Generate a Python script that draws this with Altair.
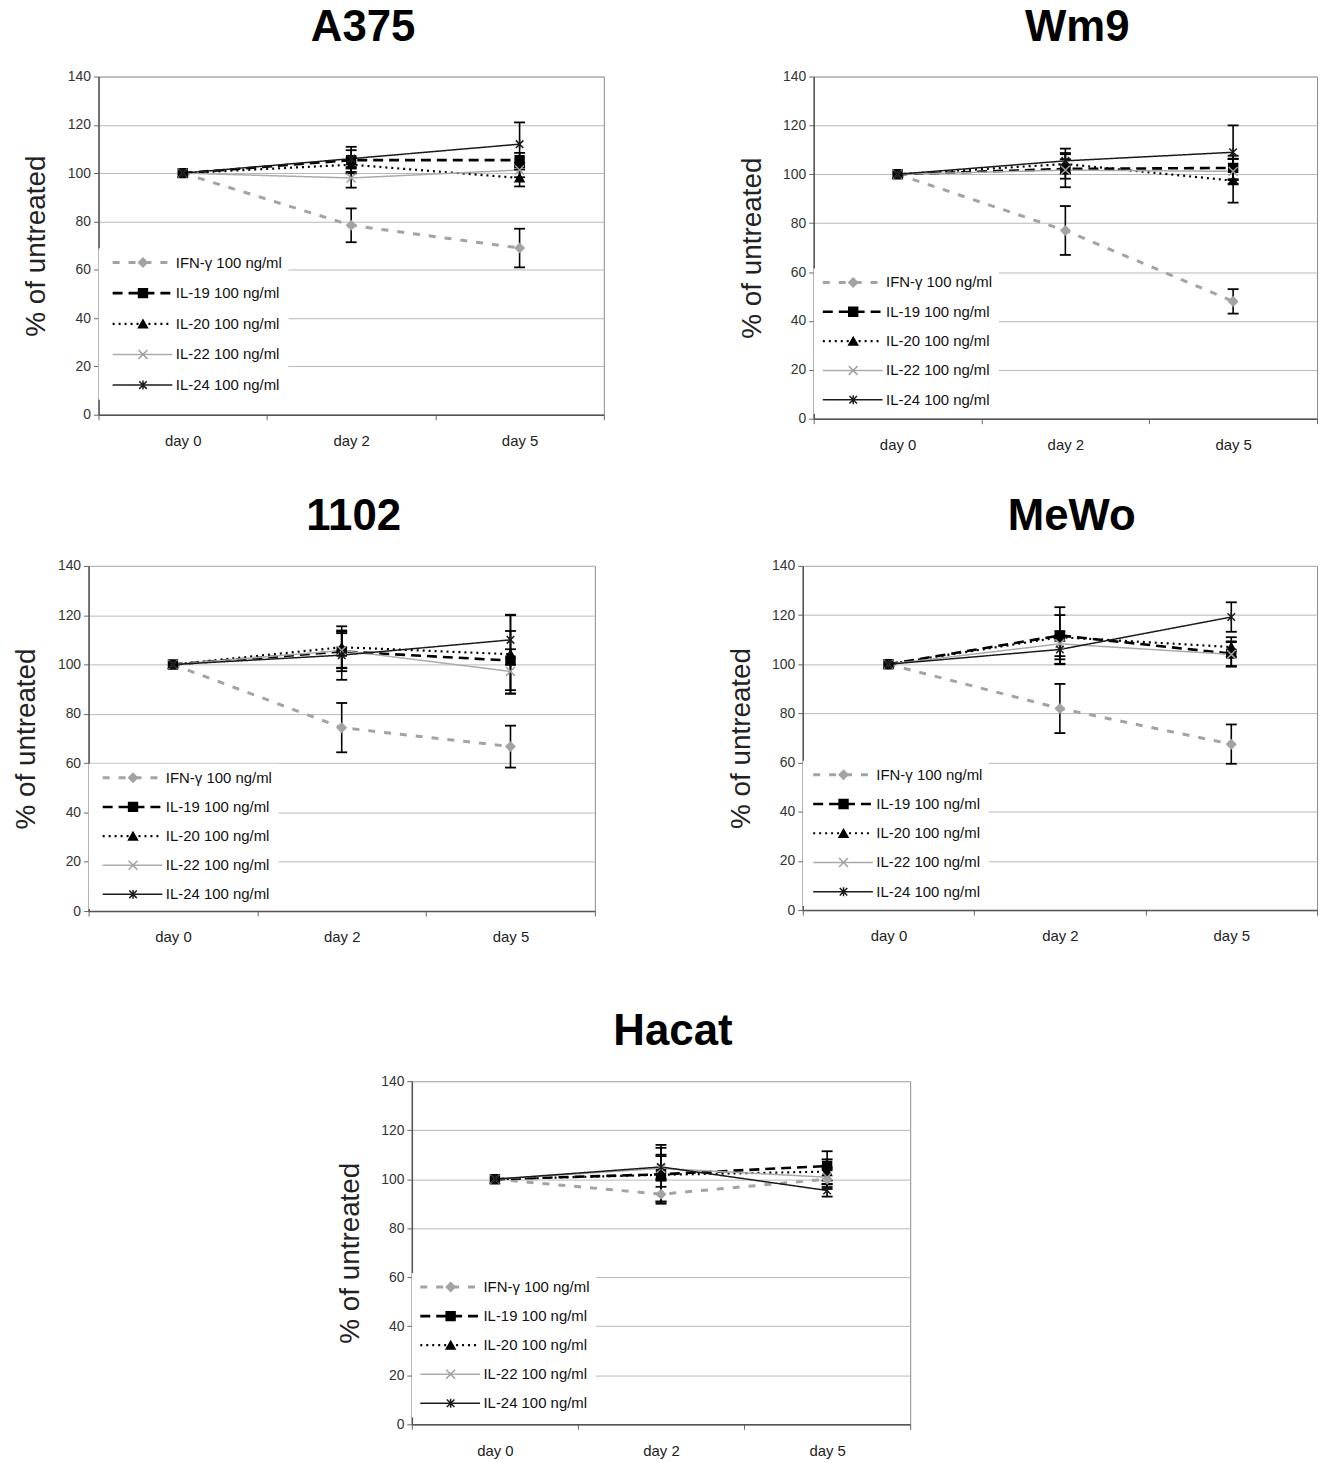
import altair as alt
import pandas as pd

FONT = "Liberation Sans"

days = ["day 0", "day 2", "day 5"]
series = ["IFN-γ 100 ng/ml", "IL-19 100 ng/ml", "IL-20 100 ng/ml",
          "IL-22 100 ng/ml", "IL-24 100 ng/ml"]

# mean values (rows: series in the order above, columns: days)
A375_mean = [[100, 78.4, 69.0], [100, 105.4, 105.4], [100, 103.5, 98.0],
             [100, 98.0, 101.3], [100, 106.0, 112.0]]
A375_err = [[0, 7, 8], [0, 5.5, 3], [0, 3, 3.5], [0, 4, 3], [0, 3.5, 9]]

Wm9_mean = [[100, 77.0, 48.0], [100, 102.2, 102.6], [100, 104.2, 97.4],
            [100, 101.7, 101.2], [100, 105.5, 109.0]]
Wm9_err = [[0, 10, 5], [0, 4, 5], [0, 4, 9], [0, 7, 5], [0, 5, 11]]

C1102_mean = [[100, 74.4, 66.7], [100, 105.3, 101.6], [100, 107.0, 104.2],
              [100, 105.7, 97.2], [100, 103.8, 110.0]]
C1102_err = [[0, 10, 8.5], [0, 8, 12], [0, 8.5, 16], [0, 7, 9], [0, 10, 10]]

MeWo_mean = [[100, 82.0, 67.5], [100, 111.7, 104.3], [100, 111.0, 107.0],
             [100, 108.3, 104.0], [100, 106.0, 119.2]]
MeWo_err = [[0, 10, 8], [0, 11.5, 5], [0, 9, 4], [0, 5, 5], [0, 6, 6]]

Hacat_mean = [[100, 93.9, 100.0], [100, 102.0, 105.4], [100, 101.8, 103.1],
              [100, 104.4, 100.8], [100, 105.0, 95.4]]
Hacat_err = [[0, 3, 4], [0, 12, 6], [0, 11, 5], [0, 5, 4], [0, 5, 2.5]]

y_ticks = [0, 20, 40, 60, 80, 100, 120, 140]

# styles
line_colors = ["#a3a3a3", "#000000", "#000000", "#ababab", "#1a1a1a"]
line_dashes = [[7, 9], [10, 6], [2, 4], [1, 0], [1, 0]]
line_widths = [3, 2.6, 2.2, 1.5, 1.5]
marker_shapes = ["diamond", "square", "triangle-up",
                 "M-1,-1L1,1M-1,1L1,-1",
                 "M-0.85,-0.85L0.85,0.85M-0.85,0.85L0.85,-0.85M0,-1L0,1"]
marker_fill = ["#a3a3a3", "#000000", "#000000", "#ababab", "#1a1a1a"]
marker_stroke = ["#a3a3a3", "#000000", "#000000", "#a0a0a0", "#1a1a1a"]

L = 77  # plot-left offset inside each panel group (estimated)


def build(mean, err):
    rows = []
    for si, s in enumerate(series):
        for di, d in enumerate(days):
            m = mean[si][di]
            e = err[si][di]
            rows.append(dict(day=d, series=s, series2=s, value=m, err=e,
                             lo=m - e, hi=m + e))
    return pd.DataFrame(rows)


def panel(name, mean, err, w, h, sym_start, first_row, pitch):
    df = build(mean, err)
    dfe = df[df["err"] > 0]
    so = max(sym_start - 8, 0)
    x = alt.X("day:N", sort=days,
              scale=alt.Scale(type="band", domain=days, paddingInner=0,
                              paddingOuter=0),
              axis=alt.Axis(title=None, tickBand="extent", labelAngle=0,
                            labelFontSize=15, labelPadding=14, tickSize=5,
                            tickColor="#666", domainColor="#555",
                            domainWidth=1.5, labelColor="#222", grid=False,
                            labelFont=FONT))
    yscale = alt.Scale(domain=[0, 140], nice=False, zero=True)
    yaxis = alt.Axis(values=y_ticks, title="% of untreated", titleFontSize=28,
                     titleFontWeight="normal", titleColor="#222",
                     titlePadding=16.5, titleFont=FONT, labelFont=FONT,
                     labelFontSize=14, labelColor="#333", labelPadding=3,
                     tickSize=5, tickColor="#666", domainColor="#555",
                     domainWidth=1.5, grid=True, gridColor="#b8b8b8",
                     gridWidth=1)
    leg1 = alt.Legend(title=None, orient="none", legendX=0,
                      legendY=first_row - 12, padding=6, fillColor="white",
                      symbolType="stroke", symbolSize=3600, clipHeight=16,
                      rowPadding=pitch - 16, symbolOffset=so,
                      labelOffset=2, labelFontSize=15, labelFont=FONT,
                      labelColor="#111", labelLimit=300, symbolOpacity=1)
    leg2 = alt.Legend(title=None, orient="none", legendX=0,
                      legendY=first_row - 12, padding=6, symbolSize=80,
                      symbolStrokeWidth=1.5, clipHeight=16,
                      rowPadding=pitch - 16, symbolOffset=so + 24.5,
                      labelOffset=2, labelFontSize=15, labelFont=FONT,
                      labelOpacity=0, labelLimit=300, symbolOpacity=1)

    lines = alt.Chart(df).mark_line(strokeCap="butt").encode(
        x=x,
        y=alt.Y("value:Q", scale=yscale, axis=yaxis),
        stroke=alt.Stroke("series:N", scale=alt.Scale(domain=series, range=line_colors), legend=leg1),
        strokeDash=alt.StrokeDash("series:N", scale=alt.Scale(domain=series, range=line_dashes), legend=leg1),
        strokeWidth=alt.StrokeWidth("series:N", scale=alt.Scale(type="ordinal", domain=series, range=line_widths), legend=leg1),
    )
    bars = alt.Chart(dfe).mark_rule(color="#000", strokeWidth=1.6).encode(
        x=x, y=alt.Y("lo:Q", scale=yscale, title="% of untreated"), y2="hi:Q")
    cap_lo = alt.Chart(dfe).mark_tick(color="#000", thickness=1.8, size=11,
                                      orient="horizontal", opacity=1).encode(
        x=x, y=alt.Y("lo:Q", scale=yscale, title="% of untreated"))
    cap_hi = alt.Chart(dfe).mark_tick(color="#000", thickness=1.8, size=11,
                                      orient="horizontal", opacity=1).encode(
        x=x, y=alt.Y("hi:Q", scale=yscale, title="% of untreated"))
    pts = alt.Chart(df).mark_point(filled=True, opacity=1, strokeWidth=1.5,
                                   size=80).encode(
        x=x,
        y=alt.Y("value:Q", scale=yscale, title="% of untreated"),
        shape=alt.Shape("series2:N", scale=alt.Scale(domain=series, range=marker_shapes), legend=leg2),
        fill=alt.Fill("series2:N", scale=alt.Scale(domain=series, range=marker_fill), legend=leg2),
        stroke=alt.Stroke("series2:N", scale=alt.Scale(domain=series, range=marker_stroke), legend=leg2),
    )
    return alt.layer(lines, bars, cap_lo, cap_hi, pts).resolve_scale(
        stroke="independent", strokeDash="independent",
        strokeWidth="independent", shape="independent", fill="independent"
    ).properties(
        width=w, height=h,
        title=alt.TitleParams(text=name, fontSize=44, fontWeight="bold",
                              font=FONT, color="#000", offset=20, dx=12,
                              anchor="middle"),
        view=alt.ViewBackground(stroke="#8a8a8a", strokeWidth=1),
    )


def spacer(w):
    return alt.Chart(pd.DataFrame({"v": [0]})).mark_point(opacity=0, size=4).properties(
        width=w, height=10, view=alt.ViewBackground(stroke="transparent"))


RES = dict(stroke="independent", strokeDash="independent",
           strokeWidth="independent", shape="independent", fill="independent")

pA = panel("A375", A375_mean, A375_err, 508, 340, 14.7, 185, 30.8)
pW = panel("Wm9", Wm9_mean, Wm9_err, 506, 344, 9.7, 205, 29.5)
p1 = panel("1102", C1102_mean, C1102_err, 509, 347, 14.7, 211, 29.3)
pM = panel("MeWo", MeWo_mean, MeWo_err, 517, 346, 11, 208, 29.4)
pH = panel("Hacat", Hacat_mean, Hacat_err, 501, 345, 9, 205, 29.2)

# target plot lefts: A375 97, Wm9 815, 1102 87, MeWo 804, Hacat 412
row1 = alt.hconcat(spacer(97 - 8 - L),
                   alt.hconcat(pA, pW, spacing=815 - 605 - L).resolve_scale(**RES),
                   spacing=0).resolve_scale(**RES)
row2 = alt.hconcat(spacer(87 - 8 - L),
                   alt.hconcat(p1, pM, spacing=804 - 596 - L).resolve_scale(**RES),
                   spacing=0).resolve_scale(**RES)
row3 = alt.hconcat(spacer(412 - 8 - L), pH, spacing=0).resolve_scale(**RES)

top = alt.vconcat(row1, row2, spacing=41).resolve_scale(**RES)
chart = alt.vconcat(top, row3, spacing=64).resolve_scale(**RES).properties(
    padding={"left": 0, "top": -7, "right": 0, "bottom": 0},
    background="white",
).configure_view(stroke="#8a8a8a")

chart.save("out.html", embed_options={"renderer": "svg", "actions": False})
